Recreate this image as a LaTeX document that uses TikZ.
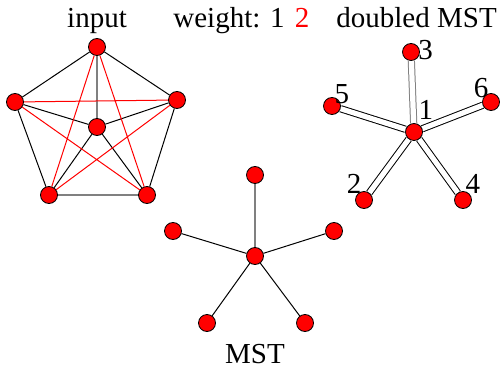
\documentclass[tikz,border=0pt]{standalone}
\usepackage{fontspec}
\setmainfont{Liberation Serif}
\usepackage{xcolor}
\usetikzlibrary{backgrounds}

\begin{document}
\begin{tikzpicture}[
  x=0.5pt, y=-0.5pt,
  font=\fontsize{14.5}{17}\selectfont,
  vert/.style={circle, draw, fill=red, minimum size=8.5pt, inner sep=0pt, line width=0.4pt},
  light/.style={line width=0.5pt},
  heavy/.style={red, line width=0.5pt},
  gheavy/.style={gray, line width=1pt},
  twin/.style={double, double distance=2.6pt, line width=0.5pt},
  num/.style={inner sep=1pt}]
\useasboundingbox (0,0) rectangle (501,368);

% Captions
\node[anchor=base] (tin) at (97,28) {input};
\node[anchor=base west, inner sep=0pt] (tw) at (173,28) {weight: 1};
\node[anchor=base, inner sep=0pt, text=red] (tw2) at (302,28) {2};
\node[anchor=base west, inner sep=0pt] (tdm) at (336,28) {doubled MST};
\node[anchor=base] (tmst) at (255,363) {MST};

% Input: complete graph on six vertices
\node[vert] (it) at (97,47) {};
\node[vert] (il) at (15,102) {};
\node[vert] (ir) at (177,100) {};
\node[vert] (ic) at (97,127) {};
\node[vert] (ibl) at (49,195) {};
\node[vert] (ibr) at (147,195) {};

% MST
\node[vert] (mc) at (255,256) {};
\node[vert] (mt) at (255,175) {};
\node[vert] (ml) at (173,231) {};
\node[vert] (mr) at (334,231) {};
\node[vert] (mbl) at (207,323) {};
\node[vert] (mbr) at (305,323) {};

% Doubled MST
\node[vert, label={[num, anchor=south west, xshift=-2pt, yshift=2pt]north east:1}] (d1) at (414,132) {};
\node[vert, label={[num, anchor=south west, xshift=-2pt, yshift=-5pt]east:3}] (d3) at (411,52) {};
\node[vert, label={[num, anchor=south west, xshift=-3pt, yshift=-3pt]north east:5}] (d5) at (332,106) {};
\node[vert, label={[num, anchor=south east, xshift=3pt, yshift=-2pt]north west:6}] (d6) at (491,102) {};
\node[vert, label={[num, anchor=south east, xshift=3pt, yshift=-1pt]north west:2}] (d2) at (364,200) {};
\node[vert, label={[num, anchor=south west, xshift=-3pt, yshift=-1pt]north east:4}] (d4) at (463,200) {};

\begin{scope}[on background layer]
% input edges
\draw[light] (it) -- (il) (it) -- (ir) (il) -- (ic) (ir) -- (ic)
  (il) -- (ibl) (ir) -- (ibr) (ic) -- (ibl) (ic) -- (ibr);
\draw[gheavy] (it) -- (ic) (ibl) -- (ibr);
\draw[heavy] (it) -- (ibl) (it) -- (ibr) (il) -- (ir) (il) -- (ibr) (ir) -- (ibl);
% MST edges
\draw[light] (mc) -- (ml) (mc) -- (mr) (mc) -- (mbl) (mc) -- (mbr);
\draw[gheavy] (mc) -- (mt);
% doubled MST edges
\draw[twin] (d1) -- (d5) (d1) -- (d6) (d1) -- (d2) (d1) -- (d4);
\draw[twin, draw=gray] (d1) -- (d3);
\end{scope}
\end{tikzpicture}
\end{document}
